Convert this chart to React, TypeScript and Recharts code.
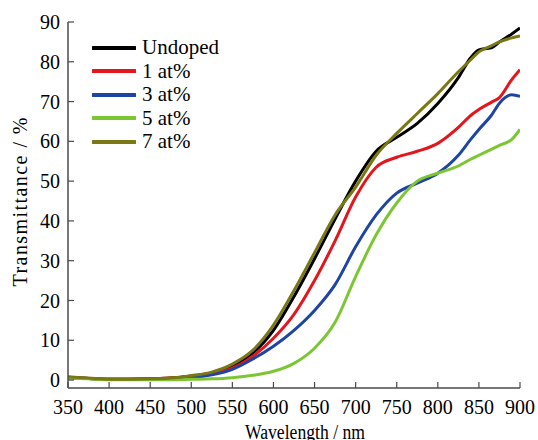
import { Line, LineChart, XAxis, YAxis } from "recharts";

const wavelength = [350, 375, 400, 425, 450, 475, 500, 525, 550, 575, 600, 625, 650, 675, 700, 725, 750, 775, 800, 825, 840, 850, 865, 875, 890, 900];
const undoped = [0.7, 0.4, 0.2, 0.2, 0.3, 0.5, 1.0, 1.8, 3.5, 6.8, 12.5, 21, 30.5, 40.5, 50, 57.5, 61, 64.5, 69.5, 76, 81, 83, 83.5, 85, 87, 88.5];
const at1 = [0.6, 0.4, 0.2, 0.2, 0.3, 0.5, 0.8, 1.6, 3.0, 6.0, 10.5, 16.5, 25, 35, 46, 53.5, 56, 57.5, 59.5, 63.5, 66.5, 68, 69.8, 71, 75.5, 78];
const at3 = [0.6, 0.4, 0.2, 0.2, 0.2, 0.4, 0.6, 1.3, 2.7, 5.3, 8.5, 12.5, 17.5, 24, 33.5, 41.5, 47, 49.5, 52, 56.5, 60.5, 63, 66.5, 69.6, 71.7, 71.3];
const at5 = [0.5, 0.3, 0.1, 0.1, 0.1, 0.1, 0.2, 0.3, 0.6, 1.2, 2.2, 4.2, 8, 14.5, 26, 36.5, 44.5, 50, 52, 53.8, 55.5, 56.5, 58, 59, 60.5, 63];
const at7 = [0.8, 0.5, 0.2, 0.2, 0.3, 0.5, 1.1, 2.0, 4, 7.5, 13.8, 22.5, 32, 41.5, 48.5, 56.5, 62, 67, 72, 77.5, 80.5, 82.5, 84, 85, 86, 86.5];

const xTicks = [350, 400, 450, 500, 550, 600, 650, 700, 750, 800, 850, 900];
const yTicks = [0, 10, 20, 30, 40, 50, 60, 70, 80, 90];

const series = [
  { key: "undoped", name: "Undoped", values: undoped, color: "#000000" },
  { key: "at1", name: "1 at%", values: at1, color: "#e3161d" },
  { key: "at3", name: "3 at%", values: at3, color: "#1f45a3" },
  { key: "at5", name: "5 at%", values: at5, color: "#7cc634" },
  { key: "at7", name: "7 at%", values: at7, color: "#7a7814" },
];

const data = wavelength.map((w, i) => {
  const row: Record<string, number> = { wl: w };
  series.forEach((s) => (row[s.key] = s.values[i]));
  return row;
});

const FONT = "Times New Roman, Liberation Serif, serif";
const FRAME = "#4a4a4a";

// legend sits inside the plot, top-left
function LegendBox() {
  return (
    <div style={{ position: "absolute", left: 92, top: 36, fontFamily: FONT, fontSize: 21, color: "#000" }}>
      {series.map((s) => (
        <div key={s.key} style={{ display: "flex", alignItems: "center", height: 23.5 }}>
          <svg width={44} height={6} style={{ marginRight: 6 }}>
            <line x1={1} y1={3} x2={43} y2={3} stroke={s.color} strokeWidth={4} strokeLinecap="round" />
          </svg>
          <span style={{ lineHeight: "23.5px" }}>{s.name}</span>
        </div>
      ))}
    </div>
  );
}

export default function App() {
  return (
    <div style={{ position: "absolute", left: 0, top: 0, width: 538, height: 440, background: "#fff", fontFamily: FONT }}>
      <LineChart width={538} height={440} data={data} margin={{ top: 22, right: 18, left: 0, bottom: 0 }}>
        <XAxis
          dataKey="wl"
          type="number"
          domain={[350, 900]}
          ticks={xTicks}
          allowDataOverflow
          height={52}
          axisLine={{ stroke: FRAME, strokeWidth: 1.5 }}
          tickLine={{ stroke: FRAME, strokeWidth: 1.2 }}
          tickSize={-6}
          tickMargin={18}
          tick={{ fill: "#000", fontSize: 20, fontFamily: FONT }}
          label={(p: any) => {
            const vb = p.viewBox;
            return (
              <text
                x={vb.x + vb.width / 2 + 11}
                y={439}
                textAnchor="middle"
                fill="#000"
                fontSize={20}
                fontFamily={FONT}
                textLength={120}
                lengthAdjust="spacingAndGlyphs"
              >
                Wavelength / nm
              </text>
            );
          }}
        />
        <XAxis xAxisId="top" orientation="top" type="number" domain={[350, 900]} height={0} tick={false} tickLine={false} axisLine={{ stroke: FRAME, strokeWidth: 1.5 }} />
        <YAxis
          type="number"
          domain={[-2, 90]}
          ticks={yTicks}
          allowDataOverflow
          width={68}
          axisLine={{ stroke: FRAME, strokeWidth: 1.5 }}
          tickLine={{ stroke: FRAME, strokeWidth: 1.2 }}
          tickSize={-6}
          tickMargin={14}
          tick={{ fill: "#000", fontSize: 20, fontFamily: FONT }}
          label={(p: any) => {
            const vb = p.viewBox;
            const cy = vb.y + vb.height / 2 - 3;
            return (
              <text
                x={27}
                y={cy}
                transform={`rotate(-90 27 ${cy})`}
                textAnchor="middle"
                fill="#000"
                fontSize={20}
                fontFamily={FONT}
                textLength={169}
                lengthAdjust="spacing"
              >
                Transmittance / %
              </text>
            );
          }}
        />
        <YAxis yAxisId="right" orientation="right" type="number" domain={[-2, 90]} width={0} tick={false} tickLine={false} axisLine={{ stroke: FRAME, strokeWidth: 1.5 }} />
        {series.map((s) => (
          <Line
            key={s.key}
            dataKey={s.key}
            name={s.name}
            type="monotone"
            stroke={s.color}
            strokeWidth={3}
            dot={false}
            isAnimationActive={false}
          />
        ))}
      </LineChart>
      <LegendBox />
    </div>
  );
}
